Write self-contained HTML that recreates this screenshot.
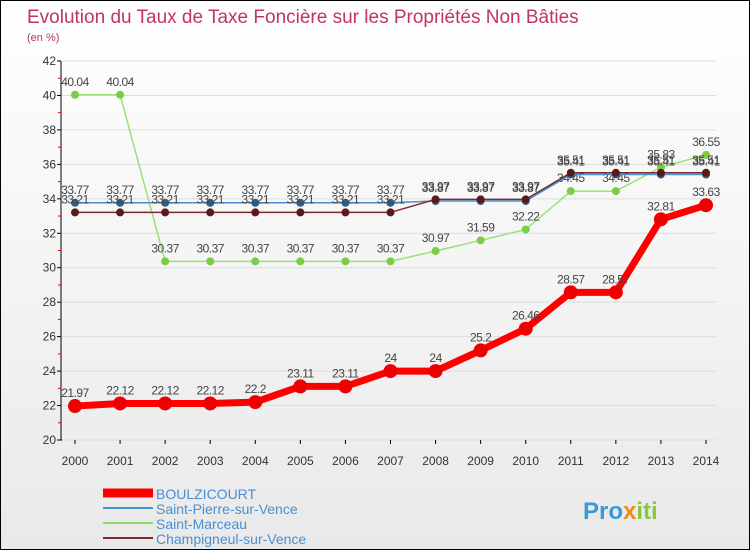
<!DOCTYPE html>
<html><head><meta charset="utf-8"><style>
body{margin:0;width:750px;height:550px;overflow:hidden;font-family:"Liberation Sans",sans-serif}
#wrap{position:relative;width:748px;height:548px;border:1px solid #000;background:linear-gradient(#fff,#e9e9e9)}
</style></head><body>
<div id="wrap">
<svg id="svg" width="748" height="548" xmlns="http://www.w3.org/2000/svg">
<text x="26" y="22" font-size="19" fill="#c0355f">Evolution du Taux de Taxe Foncière sur les Propriétés Non Bâties</text>
<text x="26" y="40" font-size="11" fill="#c0355f">(en %)</text>
<g id="axes"></g><g id="series"></g>
<g>
<line x1="102" y1="492" x2="152" y2="492" stroke="#f00" stroke-width="9"/>
<text x="155" y="498" font-size="14" fill="#4a8fd0">BOULZICOURT</text>
<line x1="102" y1="507" x2="152" y2="507" stroke="#4a8fd0" stroke-width="2"/>
<text x="155" y="513" font-size="14" fill="#4a8fd0">Saint-Pierre-sur-Vence</text>
<line x1="102" y1="522" x2="152" y2="522" stroke="#8fdc6a" stroke-width="2"/>
<text x="155" y="528" font-size="14" fill="#4a8fd0">Saint-Marceau</text>
<line x1="102" y1="537" x2="152" y2="537" stroke="#7a2a2a" stroke-width="2"/>
<text x="155" y="543" font-size="14" fill="#4a8fd0">Champigneul-sur-Vence</text>
</g>
<text x="582" y="518" font-size="24" font-weight="bold" fill="#3a9ad9">Pro<tspan fill="#f08a1c">x</tspan><tspan fill="#8cc63f">iti</tspan></text>
</svg></div>
<script>
const years=[2000,2001,2002,2003,2004,2005,2006,2007,2008,2009,2010,2011,2012,2013,2014];
const yTicks=[20,22,24,26,28,30,32,34,36,38,40,42];
const boulzicourt=[21.97,22.12,22.12,22.12,22.2,23.11,23.11,24,24,25.2,26.46,28.57,28.57,32.81,33.63];
const saintPierre=[33.77,33.77,33.77,33.77,33.77,33.77,33.77,33.77,33.87,33.87,33.87,35.41,35.41,35.41,35.41];
const saintMarceau=[40.04,40.04,30.37,30.37,30.37,30.37,30.37,30.37,30.97,31.59,32.22,34.45,34.45,35.83,36.55];
const champigneul=[33.21,33.21,33.21,33.21,33.21,33.21,33.21,33.21,33.97,33.97,33.97,35.51,35.51,35.51,35.51];
const NS="http://www.w3.org/2000/svg";
const X0=74,X1=705,YB=439,YT=60,VMIN=20,VMAX=42;
const xs=i=>X0+(X1-X0)*i/(years.length-1);
const ys=v=>YB-(v-VMIN)/(VMAX-VMIN)*(YB-YT);
function mk(t,a,p){const e=document.createElementNS(NS,t);for(const k in a)e.setAttribute(k,a[k]);p.appendChild(e);return e;}
const ax=document.getElementById('axes'),sr=document.getElementById('series');
let l=mk('line',{x1:60,y1:YT,x2:60,y2:YB,stroke:'#000'},ax);


l=mk('line',{x1:60,y1:YB,x2:715,y2:YB,stroke:'#000'},ax);


yTicks.forEach(v=>{
 const y=ys(v);
 mk('line',{x1:56,y1:y,x2:60,y2:y,stroke:'#000'},ax);
 if(v<42) mk('line',{x1:57,y1:ys(v+1),x2:60,y2:ys(v+1),stroke:'#e00'},ax);
 mk('line',{x1:61,y1:y,x2:715,y2:y,stroke:'#ddd'},ax);
 const t=mk('text',{x:55,y:y+4,'font-size':12,fill:'#333','text-anchor':'end'},ax);t.textContent=v;
 
 
});
years.forEach((yr,i)=>{
 mk('line',{x1:xs(i),y1:YB,x2:xs(i),y2:YB+4,stroke:'#000'},ax);
 const t=mk('text',{x:xs(i),y:YB+25,'font-size':12,fill:'#333','text-anchor':'middle'},ax);t.textContent=yr;
 
 
});
function series(data,color,w,r,name,dot){
 const g=mk('g',{},sr);
 
 
 mk('polyline',{points:data.map((v,i)=>xs(i)+','+ys(v)).join(' '),fill:'none',stroke:color,'stroke-width':w},g);
 data.forEach((v,i)=>{
  const c=mk('circle',{cx:xs(i),cy:ys(v),r:r,fill:dot},g);
  
  
  const t=mk('text',{x:xs(i),y:ys(v)-9,'font-size':12,fill:'#444','text-anchor':'middle','letter-spacing':'-0.5'},g);t.textContent=v;
 });
}
series(saintMarceau,'#9be07a',1.5,4,'saint-marceau-series','#7ccc45');
series(saintPierre,'#4a90d0',1.5,4,'saint-pierre-series','#2f5f86');
series(champigneul,'#7a2a2a',1.5,4,'champigneul-series','#5a1a1a');
series(boulzicourt,'#f00',7,7,'boulzicourt-series','#e00');
</script></body></html>
